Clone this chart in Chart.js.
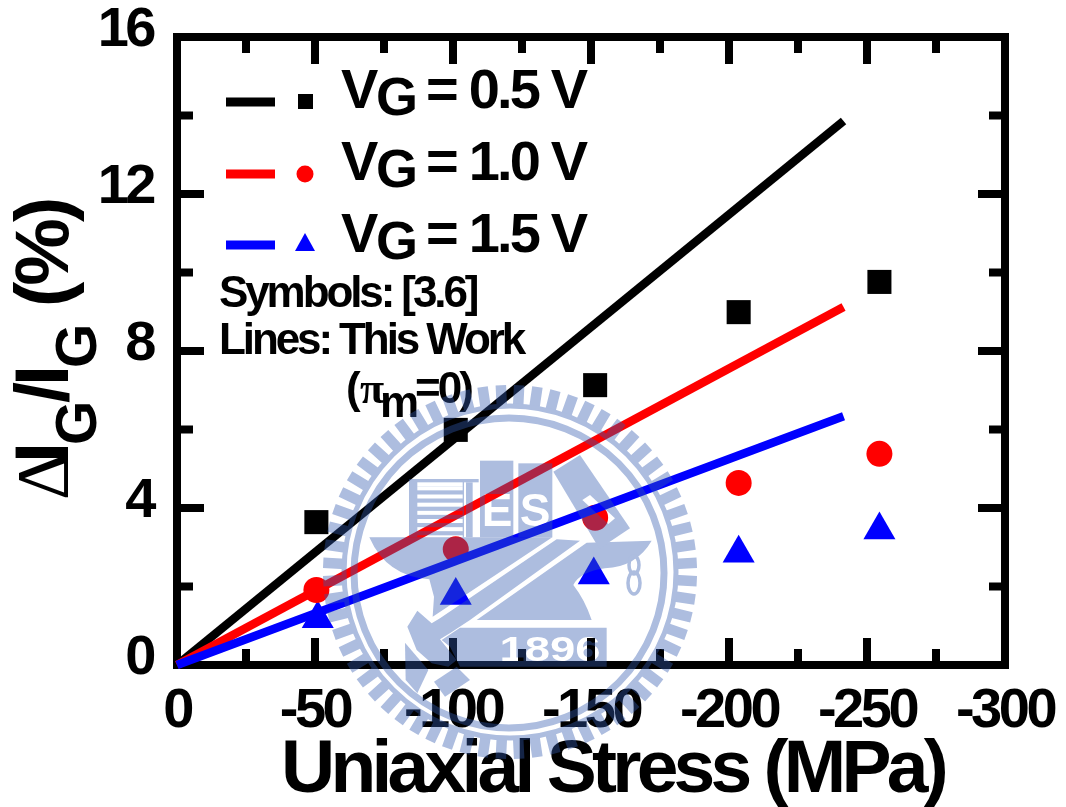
<!DOCTYPE html>
<html>
<head>
<meta charset="utf-8">
<title>Uniaxial Stress</title>
<script src="https://cdn.jsdelivr.net/npm/chart.js@4/dist/chart.umd.min.js"></script>
<style>
  html, body { margin: 0; padding: 0; background: #fff; }
  canvas { display: block; }
</style>
</head>
<body>
<canvas id="stressChart" width="1066" height="807"></canvas>
<script>
// values
const symbolStress = [-50.5, -101, -151.5, -203.5, -254.5];
const triangleStress = [-51, -101, -151, -203.5, -254.5];
const squareValues = [3.64, 5.99, 7.13, 8.99, 9.76];
const circleValues = [1.91, 2.95, 3.75, 4.64, 5.38];
const triangleValues = [1.18, 1.77, 2.29, 2.85, 3.44];

const lineStress = [0, -241.5];
const lineBlack = [0, 13.86];
const lineRed = [0, 9.12];
const lineBlue = [0, 6.34];

const legendLabels = ['0.5', '1.0', '1.5'];
const seriesColors = ['#000000', '#ff0000', '#0000ff'];

const SANS = '"Liberation Sans", Arial, sans-serif';
const SERIF = '"Liberation Serif", "Times New Roman", serif';

function toPoints(xs, ys) {
  return xs.map((x, i) => ({ x: x, y: ys[i] }));
}

function putText(ctx, str, x, y, font, spacing) {
  ctx.font = font;
  ctx.letterSpacing = (spacing || 0) + 'px';
  ctx.fillText(str, x, y);
}

// keep the plot area where it is in the picture
function fixBox(s, w, h) {
  if (w) s.width = w;
  if (h) s.height = h;
  s.paddingLeft = s.paddingRight = s.paddingTop = s.paddingBottom = 0;
}

// frame and inward ticks on all four sides
const framePlugin = {
  id: 'frame',
  beforeDraw(chart) {
    chart.ctx.letterSpacing = '-3.5px';
  },
  beforeDatasetsDraw(chart) {
    const ctx = chart.ctx;
    const a = chart.chartArea;
    const xs = chart.scales.x;
    const ys = chart.scales.y;
    ctx.save();
    ctx.strokeStyle = '#000';
    ctx.lineWidth = 8;
    ctx.beginPath();
    xs.ticks.forEach(t => {
      const px = xs.getPixelForValue(t.value);
      const len = t.value % 50 === 0 ? 27 : 16;
      ctx.moveTo(px, a.bottom);
      ctx.lineTo(px, a.bottom - len);
      ctx.moveTo(px, a.top);
      ctx.lineTo(px, a.top + len);
    });
    ys.ticks.forEach(t => {
      const py = ys.getPixelForValue(t.value);
      const len = t.value % 4 === 0 ? 27 : 16;
      ctx.moveTo(a.left, py);
      ctx.lineTo(a.left + len, py);
      ctx.moveTo(a.right, py);
      ctx.lineTo(a.right - len, py);
    });
    ctx.stroke();
    ctx.strokeRect(a.left, a.top, a.right - a.left, a.bottom - a.top);
    ctx.restore();
  },
  afterDraw(chart) {
    const ctx = chart.ctx;
    ctx.save();
    ctx.fillStyle = '#000';
    ctx.textAlign = 'left';
    ctx.textBaseline = 'alphabetic';
    drawTitles(ctx);
    drawLegend(ctx);
    drawNotes(ctx);
    ctx.restore();
    drawSeal(ctx);
  }
};

function drawTitles(ctx) {
  putText(ctx, 'Uniaxial Stress (MPa)', 281, 792, 'bold 75px ' + SANS, -4.75);

  // rotated y title, piece by piece because of the subscripts
  const pieces = [
    ['\u0394', '74px ' + SERIF, 500, 68, 0],
    ['I', 'bold 76px ' + SANS, 463, 68, 0],
    ['G', 'bold 57px ' + SANS, 445, 96, 0],
    ['/', 'bold 76px ' + SANS, 403, 68, 0],
    ['I', 'bold 76px ' + SANS, 386, 68, 0],
    ['G', 'bold 57px ' + SANS, 368, 96, 0],
    ['(%)', 'bold 76px ' + SANS, 307, 68, -4]
  ];
  pieces.forEach(p => {
    ctx.save();
    ctx.translate(p[3], p[2]);
    ctx.rotate(-Math.PI / 2);
    putText(ctx, p[0], 0, 0, p[1], p[4]);
    ctx.restore();
  });
}

function drawLegend(ctx) {
  const rows = [102, 174, 245];
  const baselines = [108, 180, 252];
  rows.forEach((y, i) => {
    ctx.fillStyle = seriesColors[i];
    ctx.fillRect(226, y - 4.5, 49, 9);
    if (i === 0) {
      ctx.fillRect(298, y - 8, 15, 15);
    } else if (i === 1) {
      ctx.beginPath();
      ctx.arc(305, y, 8.5, 0, Math.PI * 2);
      ctx.fill();
    } else {
      ctx.beginPath();
      ctx.moveTo(305, y - 12);
      ctx.lineTo(315, y + 6);
      ctx.lineTo(295, y + 6);
      ctx.closePath();
      ctx.fill();
    }
    ctx.fillStyle = '#000';
    const b = baselines[i];
    putText(ctx, 'V', 341, b, 'bold 56px ' + SANS, 0);
    putText(ctx, 'G', 376, b + 7, 'bold 54px ' + SANS, 0);
    putText(ctx, '= ' + legendLabels[i] + ' V', 426, b, 'bold 56px ' + SANS, -2.8);
  });
}

function drawNotes(ctx) {
  const f = 'bold 44px ' + SANS;
  putText(ctx, 'Symbols: [3.6]', 219, 307, f, -3.1);
  putText(ctx, 'Lines: This Work', 219, 354, f, -3.1);
  putText(ctx, '(', 346, 403, f, 0);
  putText(ctx, '\u03c0', 360, 403, 'bold 44px ' + SERIF, 0);
  putText(ctx, 'm', 380, 417, 'bold 44px ' + SANS, -2);
  putText(ctx, '=0)', 415, 403, f, -3);
}

// university seal watermark, painted over everything at low alpha
function drawSeal(target) {
  const off = document.createElement('canvas');
  off.width = 1066;
  off.height = 807;
  const c = off.getContext('2d');
  const cx = 510, cy = 572;
  c.fillStyle = 'rgb(50,90,175)';
  c.strokeStyle = 'rgb(50,90,175)';

  // teeth
  const teeth = 64;
  c.lineWidth = 10.5;
  c.beginPath();
  for (let i = 0; i < teeth; i++) {
    const t = (i + 0.5) / teeth * Math.PI * 2;
    c.moveTo(cx + Math.cos(t) * 165, cy + Math.sin(t) * 165);
    c.lineTo(cx + Math.cos(t) * 187, cy + Math.sin(t) * 187);
  }
  c.stroke();
  // bands
  c.lineWidth = 5;
  c.beginPath();
  c.arc(cx, cy, 166, 0, Math.PI * 2);
  c.stroke();
  c.lineWidth = 7;
  c.beginPath();
  c.arc(cx - 1, cy + 1, 155, 0, Math.PI * 2);
  c.stroke();

  const Z = (x, y) => [360 + x / 3, 450 + y / 3];
  const poly = pts => {
    c.beginPath();
    pts.forEach((p, i) => {
      const q = Z(p[0], p[1]);
      if (i === 0) c.moveTo(q[0], q[1]); else c.lineTo(q[0], q[1]);
    });
    c.closePath();
    c.fill();
  };
  const rect = (x0, y0, x1, y1) => {
    const q = Z(x0, y0);
    c.fillRect(q[0], q[1], (x1 - x0) / 3, (y1 - y0) / 3);
  };
  const cutRect = (x0, y0, x1, y1) => {
    c.globalCompositeOperation = 'destination-out';
    rect(x0, y0, x1, y1);
    c.globalCompositeOperation = 'source-over';
  };

  // books on the anvil
  rect(147, 87, 312, 262);
  rect(312, 87, 356, 97);
  rect(318, 97, 338, 262);
  for (let i = 0; i < 7; i++) {
    cutRect(172, 97 + i * 24.5 + 12, 308, 97 + i * 24.5 + 24);
  }
  cutRect(172, 97, 308, 109);
  rect(360, 32, 460, 262);
  rect(475, 40, 577, 262);

  // anvil left horn
  c.beginPath();
  let q = Z(28, 262);
  c.moveTo(q[0], q[1]);
  q = Z(577, 262);
  c.lineTo(q[0], q[1]);
  q = Z(218, 500);
  c.lineTo(q[0], q[1]);
  q = Z(222, 440);
  c.lineTo(q[0], q[1]);
  q = Z(208, 388);
  c.lineTo(q[0], q[1]);
  const h1 = Z(80, 380), h2 = Z(28, 262);
  c.quadraticCurveTo(h1[0], h1[1], h2[0], h2[1]);
  c.fill();

  // anvil body with right horn
  c.beginPath();
  q = Z(680, 278);
  c.moveTo(q[0], q[1]);
  q = Z(875, 272);
  c.lineTo(q[0], q[1]);
  let b1 = Z(830, 350), b2 = Z(735, 355);
  c.quadraticCurveTo(b1[0], b1[1], b2[0], b2[1]);
  b1 = Z(660, 365); b2 = Z(640, 405);
  c.quadraticCurveTo(b1[0], b1[1], b2[0], b2[1]);
  b1 = Z(675, 450); b2 = Z(695, 510);
  c.quadraticCurveTo(b1[0], b1[1], b2[0], b2[1]);
  q = Z(350, 510);
  c.lineTo(q[0], q[1]);
  c.closePath();
  c.fill();

  // wrench handle (white stripes either side are what is left unpainted)
  poly([[590, 268], [660, 272], [330, 510], [272, 548], [240, 568], [290, 630], [265, 650], [215, 640], [170, 600], [142, 530], [172, 482], [215, 520], [240, 505]]);
  // lower pieces
  poly([[135, 578], [205, 660], [172, 730], [137, 690]]);
  poly([[290, 650], [330, 690], [255, 740], [222, 695]]);
  // plate
  poly([[300, 533], [740, 533], [740, 650], [300, 650], [270, 590], [245, 570]]);

  // compass diamond with its notch
  poly([[580, 65], [660, 15], [810, 235], [718, 296]]);
  c.globalCompositeOperation = 'destination-out';
  poly([[667, 150], [690, 135], [765, 205], [745, 222]]);
  c.globalCompositeOperation = 'source-over';

  // small figure eight
  c.lineWidth = 3.5;
  c.beginPath();
  c.ellipse(634, 565, 5, 9, 0, 0, Math.PI * 2);
  c.stroke();
  c.beginPath();
  c.ellipse(634, 583, 6, 11, 0, 0, Math.PI * 2);
  c.stroke();

  // cut-out lettering
  c.globalCompositeOperation = 'destination-out';
  c.textAlign = 'center';
  c.textBaseline = 'alphabetic';
  c.font = 'bold 46px ' + SANS;
  c.fillText('E', 497, 526);
  c.fillText('S', 535, 526);
  c.save();
  c.translate(550, 661);
  c.scale(1.3, 1);
  c.font = 'bold 35px ' + SANS;
  c.fillText('1896', 0, 0);
  c.restore();
  c.globalCompositeOperation = 'source-over';

  target.save();
  target.globalAlpha = 0.4;
  target.drawImage(off, 0, 0);
  target.restore();
}

const tickFont = { family: SANS, size: 56, weight: 'bold' };

new Chart(document.getElementById('stressChart'), {
  type: 'scatter',
  data: {
    datasets: [
      { data: toPoints(lineStress, lineBlue), showLine: true, borderColor: seriesColors[2], borderWidth: 8.5, pointRadius: 0, order: 0, clip: false },
      { data: toPoints(lineStress, lineRed), showLine: true, borderColor: seriesColors[1], borderWidth: 8.5, pointRadius: 0, order: 1, clip: false },
      { data: toPoints(lineStress, lineBlack), showLine: true, borderColor: seriesColors[0], borderWidth: 8.5, pointRadius: 0, order: 2, clip: false },
      { data: toPoints(symbolStress, squareValues), pointStyle: 'rect', pointRadius: 17, backgroundColor: seriesColors[0], borderWidth: 0, order: 3, clip: false },
      { data: toPoints(symbolStress, circleValues), pointStyle: 'circle', pointRadius: 13, backgroundColor: seriesColors[1], borderWidth: 0, order: 4, clip: false },
      { data: toPoints(triangleStress, triangleValues), pointStyle: 'triangle', pointRadius: 18.5, backgroundColor: seriesColors[2], borderWidth: 0, order: 5, clip: false }
    ]
  },
  options: {
    responsive: false,
    animation: false,
    layout: { autoPadding: false, padding: { left: 0, top: 37, right: 61, bottom: 0 } },
    plugins: { legend: { display: false }, tooltip: { enabled: false } },
    scales: {
      x: {
        type: 'linear',
        reverse: true,
        min: -300,
        max: 0,
        afterFit: s => fixBox(s, 0, 142),
        grid: { display: false, drawTicks: false },
        border: { display: false },
        ticks: {
          stepSize: 25,
          autoSkip: false,
          maxRotation: 0,
          padding: 13,
          color: '#000',
          font: tickFont,
          callback: v => (v % 50 === 0 ? String(v) : '')
        }
      },
      y: {
        type: 'linear',
        min: 0,
        max: 16,
        afterFit: s => fixBox(s, 177, 0),
        grid: { display: false, drawTicks: false },
        border: { display: false },
        ticks: {
          stepSize: 2,
          autoSkip: false,
          padding: 24,
          labelOffset: -6,
          color: '#000',
          font: tickFont,
          callback: v => (v % 4 === 0 ? String(v) : '')
        }
      }
    }
  },
  plugins: [framePlugin]
});
</script>
</body>
</html>
